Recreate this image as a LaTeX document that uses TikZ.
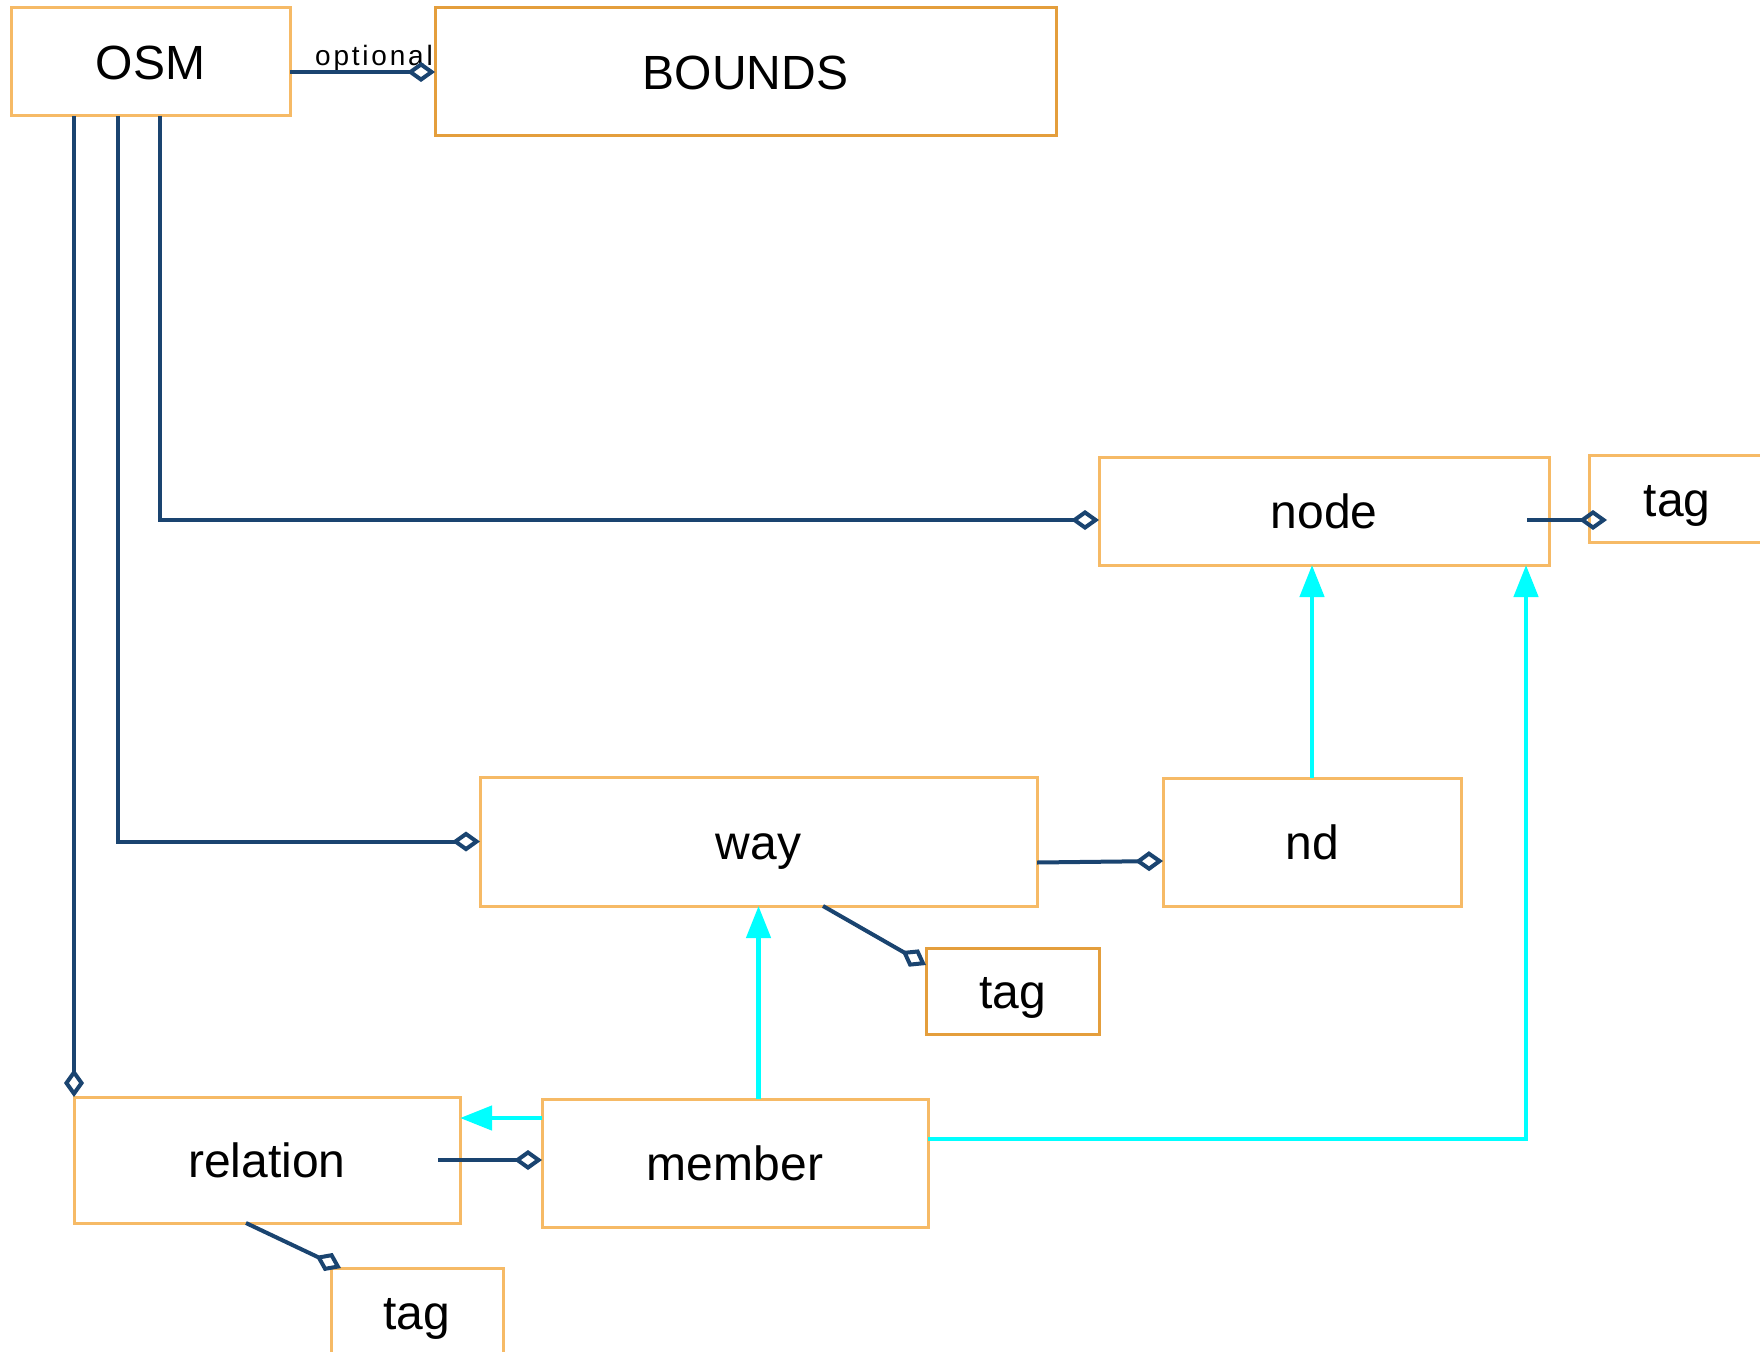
\documentclass[tikz,border=0pt]{standalone}
\usepackage{fontspec}
\setmainfont{Liberation Sans}
\usetikzlibrary{arrows.meta,calc}
\definecolor{boxor}{RGB}{246,186,102}
\definecolor{boxdk}{RGB}{228,158,60}
\definecolor{navyl}{RGB}{26,68,112}
\definecolor{cyanl}{RGB}{0,255,255}
\begin{document}
\begin{tikzpicture}[x=1pt,y=-1pt,
  box/.style={draw=boxor, line width=3pt, fill=white, inner sep=0pt, outer sep=0pt,
    text height=35pt, text depth=0pt,
    font=\fontsize{48}{48}\selectfont},
  dkbox/.style={box, draw=boxdk},
  agg/.style={draw=navyl, line width=4pt, -{Diamond[open,length=28pt,width=20pt]}},
  refl/.style={draw=cyanl, line width=4.5pt, -{Triangle[length=32pt,width=24pt]}},
  lbl/.style={font=\fontsize{28}{28}\selectfont\addfontfeature{LetterSpace=10}, inner sep=0pt, anchor=base}]
\useasboundingbox (0,0) rectangle (1760,1351);
\clip (0,0) rectangle (1760,1351);
\fill[white] (0,0) rectangle (1760,1351);
% boxes
\node[box, minimum width=279pt, minimum height=108pt] (OSM) at (150.5,62) {OSM};
\node[dkbox, minimum width=621pt, minimum height=128pt] (BOUNDS) at (745.5,72) {BOUNDS};
\node[box, minimum width=450pt, minimum height=108pt] (node) at (1324,511) {node};
\node[box, minimum width=176pt, minimum height=87pt] (tagA) at (1677,498.5) {tag};
\node[box, minimum width=557pt, minimum height=129pt] (way) at (758.5,841.5) {way};
\node[box, minimum width=298pt, minimum height=128pt] (nd) at (1312,842) {nd};
\node[dkbox, minimum width=173pt, minimum height=86pt] (tagB) at (1012.5,991) {tag};
\node[box, minimum width=386pt, minimum height=126pt] (relation) at (267,1160) {relation};
\node[box, minimum width=386pt, minimum height=128pt] (member) at (735,1163) {member};
\node[box, minimum width=172pt, minimum height=88pt] (tagC) at (417,1312) {tag};
% label
\node[lbl] (opt) at (374,66) {optional};
% aggregation connectors
\draw[agg] (OSM.east |- BOUNDS.west) -- (BOUNDS.west);
\draw[agg] ([xshift=9.5pt]OSM.south) |- ([yshift=-9pt]node.west);
\draw[agg] ([xshift=-32.5pt]OSM.south) |- (way.west);
\draw[agg] (OSM.south -| relation.north west) -- (relation.north west);
\draw[agg] ([xshift=-22pt,yshift=-9pt]node.east) -- ([xshift=18pt,yshift=-9pt]node.east -| tagA.west);
\draw[agg] ([yshift=-21pt]way.east) -- ([yshift=-19pt]nd.west);
\draw[agg] ([xshift=64.5pt]way.south) -- ([yshift=-17pt]tagB.north west);
\draw[agg] ([xshift=-22pt]relation.east) -- (relation.east -| member.west);
\draw[agg] ([xshift=-21pt]relation.south) -- ([xshift=10pt]tagC.north west);
% reference connectors
\draw[refl] (nd.north) -- (nd.north |- node.south);
\draw[refl] (way.south |- member.north) -- (way.south);
\draw[refl] ([yshift=-19pt]member.north west) -- ([yshift=-19pt]member.north west -| relation.east);
\draw[refl] ([yshift=24pt]member.east) -| ([xshift=202pt]node.south);
\end{tikzpicture}
\end{document}
